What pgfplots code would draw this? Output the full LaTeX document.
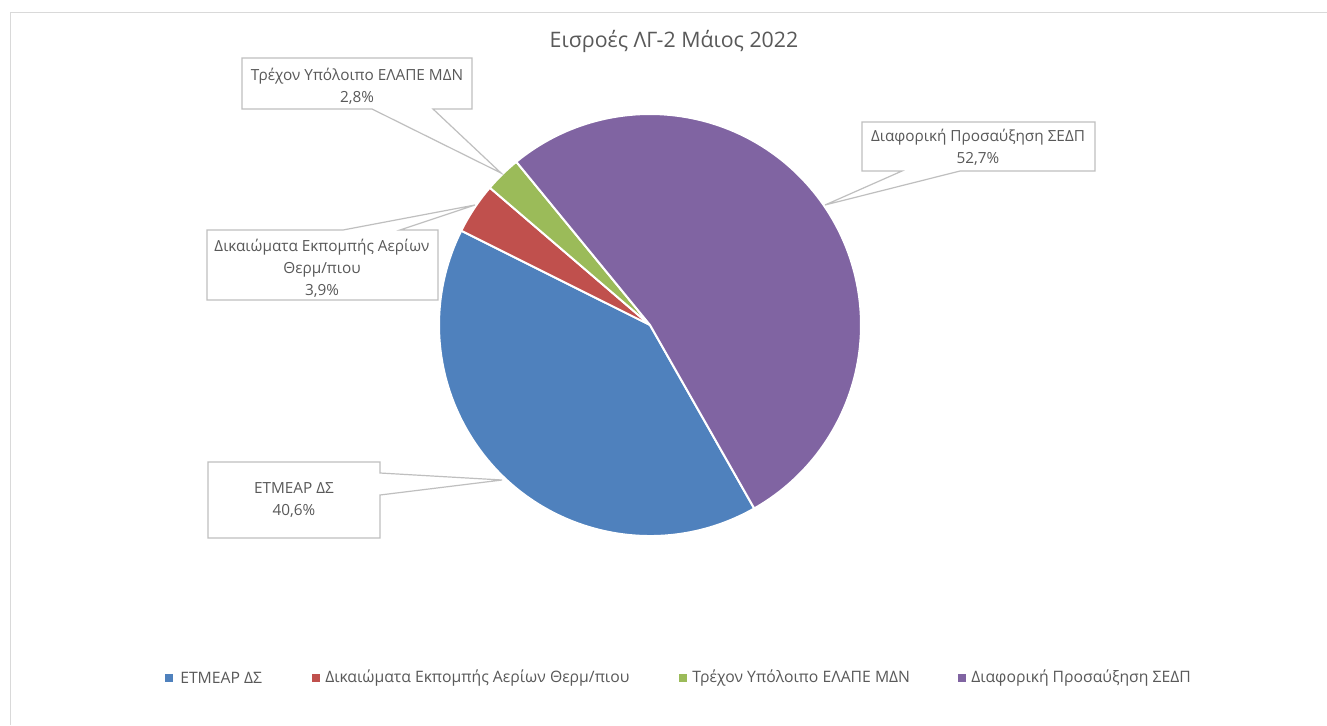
\documentclass[border=0pt]{standalone}
\usepackage{pgfplots}
\usepackage{pgfplotstable}
\pgfplotsset{compat=1.18}
\usepackage{fontspec}
\setmainfont{Open Sans}
\definecolor{cBlue}{HTML}{4F81BD}
\definecolor{cRed}{HTML}{C0504D}
\definecolor{cGreen}{HTML}{9BBB59}
\definecolor{cPurple}{HTML}{8064A2}
\definecolor{txt}{HTML}{595959}
\definecolor{frameC}{HTML}{D9D9D9}
\definecolor{callC}{HTML}{BFBFBF}
\pgfplotstableread{
value
40.6
3.9
2.8
52.7
}\piedata
\pgfplotstablegetelem{0}{value}\of\piedata\let\vA\pgfplotsretval
\pgfplotstablegetelem{1}{value}\of\piedata\let\vB\pgfplotsretval
\pgfplotstablegetelem{2}{value}\of\piedata\let\vC\pgfplotsretval
\pgfplotstablegetelem{3}{value}\of\piedata\let\vD\pgfplotsretval
\pgfmathsetmacro\aA{-60.4}
\pgfmathsetmacro\aB{\aA-3.6*\vA}
\pgfmathsetmacro\aC{\aB-3.6*\vB}
\pgfmathsetmacro\aD{\aC-3.6*\vC}
\pgfmathsetmacro\aE{\aD-3.6*\vD}
\def\R{158.25pt}
\begin{document}%
\begin{tikzpicture}
\begin{axis}[
  scale only axis, width=995.25pt, height=543.75pt,
  xmin=0, xmax=1327, ymin=0, ymax=725, y dir=reverse,
  hide axis, clip=false,
]
\fill[white] (axis cs:0,0) rectangle (axis cs:1327,725);
\draw[frameC, line width=1.2pt] (axis cs:10.5,725) -- (axis cs:10.5,12.5) -- (axis cs:1327,12.5);
% title
\node[txt, font=\fontsize{16}{19}\selectfont] at (axis cs:674,41) {Εισροές ΛΓ-2 Μάιος 2022};
% pie
\filldraw[fill=cBlue, draw=white, line width=1.5pt, line join=round] (axis cs:650,325) -- ++(\aA:\R) arc[start angle=\aA, end angle=\aB, radius=\R] -- cycle;
\filldraw[fill=cRed, draw=white, line width=1.5pt, line join=round] (axis cs:650,325) -- ++(\aB:\R) arc[start angle=\aB, end angle=\aC, radius=\R] -- cycle;
\filldraw[fill=cGreen, draw=white, line width=1.5pt, line join=round] (axis cs:650,325) -- ++(\aC:\R) arc[start angle=\aC, end angle=\aD, radius=\R] -- cycle;
\filldraw[fill=cPurple, draw=white, line width=1.5pt, line join=round] (axis cs:650,325) -- ++(\aD:\R) arc[start angle=\aD, end angle=\aE, radius=\R] -- cycle;
% callouts
\filldraw[fill=white, draw=callC, line width=0.9pt] (axis cs:242,58) -- (axis cs:472,58) -- (axis cs:472,109) -- (axis cs:433,109) -- (axis cs:501,173) -- (axis cs:372,109) -- (axis cs:242,109) -- cycle;
\filldraw[fill=white, draw=callC, line width=0.9pt] (axis cs:862,122) -- (axis cs:1095,122) -- (axis cs:1095,171) -- (axis cs:960,171) -- (axis cs:825,205) -- (axis cs:902,171) -- (axis cs:862,171) -- cycle;
\filldraw[fill=white, draw=callC, line width=0.9pt] (axis cs:207,230) -- (axis cs:343,230) -- (axis cs:475,205) -- (axis cs:400,230) -- (axis cs:438,230) -- (axis cs:438,300) -- (axis cs:207,300) -- cycle;
\filldraw[fill=white, draw=callC, line width=0.9pt] (axis cs:208,462) -- (axis cs:380,462) -- (axis cs:380,473) -- (axis cs:502,480) -- (axis cs:380,495) -- (axis cs:380,538) -- (axis cs:208,538) -- cycle;
% labels
\begin{scope}[every node/.style={txt, font=\fontsize{11.5}{16.5}\selectfont, align=center}]
\node at (axis cs:357,86) {Τρέχον Υπόλοιπο ΕΛΑΠΕ ΜΔΝ\\2,8\%};
\node at (axis cs:978,147) {Διαφορική Προσαύξηση ΣΕΔΠ\\52,7\%};
\node at (axis cs:322,268) {Δικαιώματα Εκπομπής Αερίων\\Θερμ/πιου\\3,9\%};
\node at (axis cs:294,500) {ΕΤΜΕΑΡ ΔΣ\\40,6\%};
\end{scope}
% legend
\fill[cBlue] (axis cs:165,674) rectangle (axis cs:173,682);
\fill[cRed] (axis cs:312,674) rectangle (axis cs:320,682);
\fill[cGreen] (axis cs:679,674) rectangle (axis cs:687,682);
\fill[cPurple] (axis cs:958,674) rectangle (axis cs:966,682);
\begin{scope}[every node/.style={txt, font=\fontsize{11.8}{13}\selectfont, anchor=west, inner sep=0pt}]
\node at (axis cs:180,678) {ΕΤΜΕΑΡ ΔΣ};
\node at (axis cs:325,678) {Δικαιώματα Εκπομπής Αερίων Θερμ/πιου};
\node at (axis cs:692,678) {Τρέχον Υπόλοιπο ΕΛΑΠΕ ΜΔΝ};
\node at (axis cs:971,678) {Διαφορική Προσαύξηση ΣΕΔΠ};
\end{scope}
\end{axis}
\pgfresetboundingbox
\path[use as bounding box] (current axis.south west) rectangle (current axis.north east);
\end{tikzpicture}%
\end{document}
